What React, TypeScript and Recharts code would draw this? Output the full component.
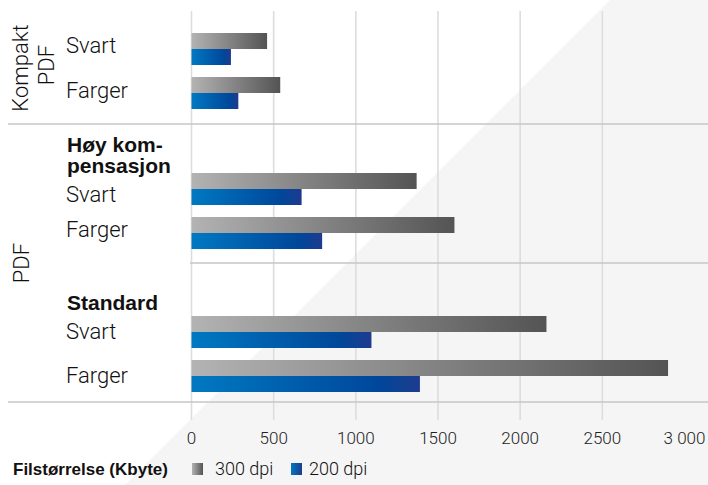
import React from "react";
import { BarChart, Bar, XAxis, YAxis, ReferenceLine } from "recharts";

const ROW_LABELS = ["Svart", "Farger"];
const KOMPAKT_300 = [460, 540];
const KOMPAKT_200 = [240, 285];
const HOY_300 = [1370, 1600];
const HOY_200 = [670, 795];
const STANDARD_300 = [2160, 2900];
const STANDARD_200 = [1095, 1390];
const X_TICKS = [0, 500, 1000, 1500, 2000, 2500, 3000];
const GRID_VALUES = [0, 500, 1000, 1500, 2000, 2500];
const LEGEND_TITLE = "Filstørrelse (Kbyte)";
const SERIES_NAMES = ["300 dpi", "200 dpi"];

const FONT = "Roboto, 'Liberation Sans', sans-serif";
const BOLD_FONT = "'Liberation Sans', Arial, sans-serif";
const W = 708;
const H = 485;
const PLOT_LEFT = 191.5;
const PLOT_RIGHT = 23.5;

const toRows = (a300: number[], a200: number[]) =>
  ROW_LABELS.map((name, i) => ({ name, dpi300: a300[i], dpi200: a200[i] }));

const formatTick = (v: number) => (v === 3000 ? "3 000" : String(v));

const Gradients = ({ id }: { id: string }) => (
  <defs>
    <linearGradient id={`gray-${id}`} x1="0" y1="0" x2="1" y2="0">
      <stop offset="0%" stopColor="#b3b3b3" />
      <stop offset="100%" stopColor="#545454" />
    </linearGradient>
    <linearGradient id={`blue-${id}`} x1="0" y1="0" x2="1" y2="0">
      <stop offset="0%" stopColor="#0079c2" />
      <stop offset="82%" stopColor="#00479a" />
      <stop offset="100%" stopColor="#1e3b8d" />
    </linearGradient>
  </defs>
);

interface GroupProps {
  id: string;
  top: number;
  data: Array<{ name: string; dpi300: number; dpi200: number }>;
  labelDy: number[];
}

const GroupChart: React.FC<GroupProps> = ({ id, top, data, labelDy }) => (
  <div style={{ position: "absolute", left: 0, top }}>
    <BarChart
      width={W}
      height={88}
      data={data}
      layout="vertical"
      margin={{ top: 0, right: PLOT_RIGHT, bottom: 0, left: 0 }}
      barGap={0}
      barCategoryGap={0}
    >
      <Gradients id={id} />
      <XAxis type="number" domain={[0, 3000]} hide />
      <YAxis
        type="category"
        dataKey="name"
        width={PLOT_LEFT}
        axisLine={false}
        tickLine={false}
        tick={(p: any) => (
          <text
            x={66}
            y={p.y + (labelDy[p.index] ?? 5)}
            fontFamily={FONT}
            fontWeight={300}
            fontSize={22}
            fill="#111"
          >
            {p.payload.value}
          </text>
        )}
      />
      <Bar dataKey="dpi300" name={SERIES_NAMES[0]} barSize={16} fill={`url(#gray-${id})`} isAnimationActive={false} />
      <Bar dataKey="dpi200" name={SERIES_NAMES[1]} barSize={16} fill={`url(#blue-${id})`} isAnimationActive={false} />
    </BarChart>
  </div>
);

const App: React.FC = () => {
  const kompakt = toRows(KOMPAKT_300, KOMPAKT_200);
  const hoy = toRows(HOY_300, HOY_200);
  const standard = toRows(STANDARD_300, STANDARD_200);

  return (
    <div style={{ position: "absolute", left: 0, top: 0, width: W, height: H, background: "#fff", overflow: "hidden" }}>
      <svg width={W} height={H} style={{ position: "absolute", left: 0, top: 0 }}>
        <polygon points="610,0 708,0 708,485 125,485" fill="#f5f5f5" />
      </svg>

      {/* grid + value axis shared by the three groups */}
      <div style={{ position: "absolute", left: 0, top: 11 }}>
        <BarChart
          width={W}
          height={H - 11}
          data={kompakt}
          layout="vertical"
          margin={{ top: 0, right: PLOT_RIGHT, bottom: 35, left: PLOT_LEFT }}
        >
          <XAxis
            type="number"
            domain={[0, 3000]}
            ticks={X_TICKS}
            interval={0}
            height={30}
            axisLine={false}
            tickLine={false}
            tickMargin={6}
            tickFormatter={formatTick}
            tick={{ fontSize: 17, fill: "#222", fontFamily: FONT, fontWeight: 300 }}
          />
          <YAxis type="category" dataKey="name" hide />
          <Bar dataKey="dpi300" fill="none" legendType="none" isAnimationActive={false} />
          {GRID_VALUES.map((v) => (
            <ReferenceLine key={v} x={v} stroke="#dddddd" strokeWidth={1.6} ifOverflow="visible" />
          ))}
        </BarChart>
      </div>

      <svg width={W} height={H} style={{ position: "absolute", left: 0, top: 0 }}>
        <line x1={8} x2={W} y1={124} y2={124} stroke="#c6c6c6" strokeWidth={1.5} />
        <line x1={190} x2={W} y1={263} y2={263} stroke="#c6c6c6" strokeWidth={1.5} />
        <line x1={8} x2={W} y1={402} y2={402} stroke="#c6c6c6" strokeWidth={1.5} />

        <g fontFamily={FONT} fill="#111" fontSize={22} fontWeight={300}>
          <text transform="translate(28,68) rotate(-90)" textAnchor="middle">Kompakt</text>
          <text transform="translate(54,65) rotate(-90)" textAnchor="middle">PDF</text>
          <text transform="translate(29,263) rotate(-90)" textAnchor="middle">PDF</text>
        </g>
        <g fontFamily={BOLD_FONT} fill="#111" fontSize={21} fontWeight={700}>
          <text x={67} y={152}>Høy kom-</text>
          <text x={67} y={173}>pensasjon</text>
          <text x={67} y={310}>Standard</text>
        </g>

        <defs>
          <linearGradient id="legend-gray" x1="0" y1="0" x2="1" y2="0">
            <stop offset="0%" stopColor="#b3b3b3" />
            <stop offset="100%" stopColor="#545454" />
          </linearGradient>
          <linearGradient id="legend-blue" x1="0" y1="0" x2="1" y2="0">
            <stop offset="0%" stopColor="#0079c2" />
            <stop offset="100%" stopColor="#1e3b8d" />
          </linearGradient>
        </defs>
        <g fill="#111">
          <text x={13} y={475} fontSize={17} fontWeight={700} fontFamily={BOLD_FONT}>{LEGEND_TITLE}</text>
          <rect x={192} y={463} width={11} height={12} fill="url(#legend-gray)" />
          <text x={215} y={475} fontSize={18} fontWeight={300} fontFamily={FONT}>{SERIES_NAMES[0]}</text>
          <rect x={291} y={463} width={11} height={12} fill="url(#legend-blue)" />
          <text x={309} y={475} fontSize={18} fontWeight={300} fontFamily={FONT}>{SERIES_NAMES[1]}</text>
        </g>
      </svg>

      <GroupChart id="kompakt" top={27} data={kompakt} labelDy={[4, 5]} />
      <GroupChart id="hoy" top={167} data={hoy} labelDy={[13, 4]} />
      <GroupChart id="standard" top={310} data={standard} labelDy={[7, 7]} />
    </div>
  );
};

export default App;
